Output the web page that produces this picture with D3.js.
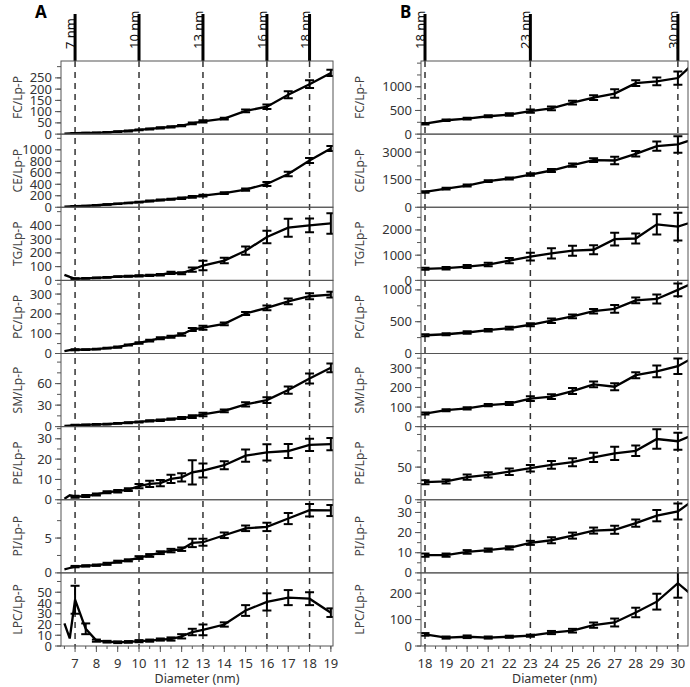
<!DOCTYPE html>
<html><head><meta charset="utf-8">
<script src="https://cdn.jsdelivr.net/npm/d3@7"></script>
<style>
html,body{margin:0;padding:0;background:#fff;}
svg{display:block;}
text{font-family:"Noto Sans","Open Sans",sans-serif;}
</style></head>
<body>
<svg id="chart" width="690" height="687"></svg>
<script>
// ---------------- DATA ----------------
const panelNames = ["FC/Lp-P","CE/Lp-P","TG/Lp-P","PC/Lp-P","SM/Lp-P","PE/Lp-P","PI/Lp-P","LPC/Lp-P"];

// Panel A
const xA = [6.5, 6.75, 7, 7.5, 8, 8.5, 9, 9.5, 10, 10.5, 11, 11.5, 12, 12.5, 13, 14, 15, 16, 17, 18, 19];
const fcA  = [2, 3, 4, 5, 6, 8, 11, 14, 19, 23, 28, 32, 38, 48, 57, 69, 103, 122, 175, 222, 272];
const fcAe = [null, null, 1, 1, 1, 1, 1.5, 2, 2, 2, 2.5, 2.5, 3, 4, 5, 4, 6, 10, 16, 17, 14];
const ceA  = [10, 14, 18, 25, 35, 48, 60, 75, 90, 108, 125, 140, 157, 180, 204, 244, 308, 406, 580, 814, 1023];
const ceAe = [null, null, 3, 3, 4, 4, 5, 5, 6, 8, 8, 10, 12, 15, 15, 15, 20, 35, 40, 45, 45];
const tgA  = [40, 25, 12, 14, 18, 22, 27, 30, 33, 36, 41, 55, 52, 78, 108, 144, 216, 316, 383, 400, 414];
const tgAe = [null, null, 3, 3, 3, 3, 3, 4, 4, 5, 6, 8, 8, 15, 35, 20, 30, 45, 65, 50, 75];
const pcA  = [12, 17, 19, 20, 22, 27, 32, 43, 53, 65, 77, 84, 96, 121, 130, 150, 202, 230, 263, 289, 297];
const pcAe = [null, null, 2, 2, 2, 2, 3, 3, 4, 4, 5, 5, 6, 8, 10, 7, 8, 12, 15, 15, 15];
const smA  = [1, 1.5, 2, 2.5, 3, 3.5, 4.5, 5.5, 6.5, 8, 9, 10.5, 12, 14, 17, 22, 31, 37, 51, 67, 82];
const smAe = [null, null, 0.5, 0.5, 0.5, 0.5, 0.5, 0.7, 0.8, 0.8, 1, 1, 1.5, 2, 2.5, 2, 3, 4, 5, 7, 6];
const peA  = [0.5, 2.2, 1.5, 1.8, 2.6, 3.7, 4.2, 5, 6.7, 7.8, 8.2, 10.3, 11, 13.5, 14.4, 17, 21.7, 23.3, 24, 27, 27.4];
const peAe = [null, null, 0.5, 0.5, 0.5, 0.5, 0.6, 0.7, 1, 1.5, 1.5, 2, 2, 6, 3.5, 2, 3, 4, 3.5, 3, 3];
const piA  = [0.5, 0.7, 0.9, 1.0, 1.1, 1.3, 1.6, 1.8, 2.2, 2.5, 2.9, 3.2, 3.4, 4.3, 4.4, 5.4, 6.4, 6.6, 7.8, 9.0, 8.96];
const piAe = [null, null, 0.1, 0.1, 0.1, 0.15, 0.15, 0.15, 0.2, 0.2, 0.2, 0.25, 0.25, 0.6, 0.5, 0.4, 0.4, 0.6, 0.8, 0.9, 0.8];
const lpcA  = [21, 7, 43, 16, 5, 4, 3.5, 3.8, 4.5, 5, 6, 6.5, 9, 13, 15, 20, 33, 41, 45, 44, 31];
const lpcAe = [null, null, 13, 5, 1, 0.8, 0.8, 0.8, 1, 1, 1, 1.5, 2, 3, 5, 2, 5, 8, 7, 6, 4];

// Panel B
const xB = [18, 19, 20, 21, 22, 23, 24, 25, 26, 27, 28, 29, 30, 31];
const fcB  = [221, 293, 328, 378, 414, 485, 543, 664, 771, 857, 1078, 1114, 1185, 1600];
const fcBe = [15, 15, 20, 20, 25, 35, 40, 40, 50, 90, 60, 80, 140, null];
const ceB  = [836, 1018, 1182, 1418, 1564, 1782, 2000, 2290, 2563, 2545, 2909, 3327, 3418, 3800];
const ceBe = [40, 50, 50, 50, 60, 70, 80, 90, 100, 200, 150, 250, 450, null];
const tgB  = [457, 484, 549, 627, 784, 941, 1072, 1176, 1215, 1634, 1660, 2222, 2130, 2400];
const tgBe = [40, 50, 60, 70, 100, 150, 200, 200, 180, 250, 200, 400, 550, null];
const pcB  = [287, 303, 330, 367, 399, 452, 516, 585, 665, 702, 835, 858, 1000, 1150];
const pcBe = [15, 15, 20, 20, 20, 25, 35, 30, 35, 60, 45, 70, 100, null];
const smB  = [67, 84, 93, 110, 118, 143, 153, 182, 216, 204, 263, 283, 309, 370];
const smBe = [5, 5, 6, 6, 8, 12, 12, 15, 15, 18, 15, 30, 40, null];
const peB  = [26.9, 28, 34.6, 38, 43, 48.3, 53.5, 57.5, 65, 71, 75, 93, 89.6, 103];
const peBe = [3, 3, 4, 4, 5, 5, 6, 6, 7, 10, 8, 15, 13, null];
const piB  = [8.8, 8.8, 10.4, 11.3, 12.4, 14.9, 16.2, 18.5, 21, 21.4, 24.7, 28.4, 30.5, 38];
const piBe = [0.8, 0.8, 0.9, 0.8, 0.8, 1, 1.5, 1.5, 1.5, 2, 1.8, 2.8, 4, null];
const lpcB  = [44, 32, 35, 32, 35, 39, 51, 58, 79, 89, 127, 168, 238, 170];
const lpcBe = [5, 4, 5, 4, 4, 4, 6, 7, 10, 15, 18, 30, 55, null];

// Axis tick labels / domains
const yMaxA = [325, 1273, 532, 369, 102, 36, 10.5, 68];
const yLabelsA = [[0,50,100,150,200,250],[0,200,400,600,800,1000],[0,100,200,300,400],[0,100,200,300],[0,30,60],[0,10,20,30],[0,5],[0,10,20,30,40,50]];
const yMinorA = [50, 200, 100, 50, 15, 5, 2.5, 10];
const yMaxB = [1545, 3980, 2900, 1150, 374, 112, 36.3, 277];
const yLabelsB = [[0,500,1000],[0,1500,3000],[0,1000,2000],[0,500,1000],[0,100,200,300],[0,50],[0,10,20,30],[0,100,200]];
const yMinorB = [250, 750, 500, 250, 50, 25, 5, 50];

const xTicksA = [7,8,9,10,11,12,13,14,15,16,17,18,19];
const xTicksB = [18,19,20,21,22,23,24,25,26,27,28,29,30];
const markersA = [7, 10, 13, 16, 18];
const markersB = [18, 23, 30];

// ---------------- DRAW ----------------
const svg = d3.select("#chart");
const top0 = 61, bottom0 = 646, nP = 8;
const pH = (bottom0 - top0) / nP;

function drawPanel(cfg) {
  const g = svg.append("g");
  const x = d3.scaleLinear().domain(cfg.xDomain).range([cfg.left, cfg.right]);
  const defsId = cfg.id;

  cfg.markers.forEach(m => {
    g.append("line")
      .attr("x1", x(m)).attr("x2", x(m))
      .attr("y1", top0).attr("y2", bottom0)
      .attr("stroke", "#333").attr("stroke-width", 1.5)
      .attr("stroke-dasharray", "6,5");
    g.append("text")
      .attr("transform", `translate(${x(m)},49) rotate(-90)`)
      .attr("font-size", 13).attr("fill", "#111")
      .text(m + " nm");
    g.append("line")
      .attr("x1", x(m)).attr("x2", x(m))
      .attr("y1", 14).attr("y2", top0)
      .attr("stroke", "#000").attr("stroke-width", 3);
  });

  cfg.series.forEach((s, i) => {
    const pt = top0 + i * pH, pb = pt + pH;
    const y = d3.scaleLinear().domain([0, cfg.yMax[i]]).range([pb, pt]);
    const cid = defsId + "clip" + i;
    svg.append("clipPath").attr("id", cid)
      .append("rect").attr("x", cfg.left).attr("y", pt).attr("width", cfg.right - cfg.left).attr("height", pH);
    const pg = g.append("g");

    const minorVals = d3.range(0, cfg.yMax[i] + 1e-9, cfg.yMinor[i]);
    minorVals.forEach(v => {
      pg.append("line").attr("x1", cfg.left - 4).attr("x2", cfg.left)
        .attr("y1", y(v)).attr("y2", y(v)).attr("stroke", "#555").attr("stroke-width", 1);
    });
    cfg.yLabels[i].forEach(v => {
      pg.append("line").attr("x1", cfg.left - 6).attr("x2", cfg.left)
        .attr("y1", y(v)).attr("y2", y(v)).attr("stroke", "#555").attr("stroke-width", 1);
      pg.append("text").attr("x", cfg.left - 9).attr("y", y(v))
        .attr("dy", "0.35em").attr("text-anchor", "end")
        .attr("font-size", 13).attr("fill", "#333").text(v);
    });

    pg.append("text")
      .attr("transform", `translate(${cfg.titleX},${(pt + pb) / 2}) rotate(-90)`)
      .attr("text-anchor", "middle").attr("dy", "0.35em")
      .attr("font-size", 12).attr("fill", "#444").text(panelNames[i]);

    const data = cfg.x.map((xv, j) => ({x: xv, v: s.v[j], e: s.e[j]}));
    const cl = pg.append("g").attr("clip-path", `url(#${cid})`);
    cl.append("path").datum(data)
      .attr("d", d3.line().x(d => x(d.x)).y(d => y(d.v)))
      .attr("fill", "none").attr("stroke", "#000").attr("stroke-width", 2.3);
    const eb = data.filter(d => d.e != null);
    eb.forEach(d => {
      const xx = x(d.x), y1 = y(d.v + d.e), y2 = y(d.v - d.e);
      cl.append("line").attr("x1", xx).attr("x2", xx).attr("y1", y1).attr("y2", y2)
        .attr("stroke", "#000").attr("stroke-width", 2);
      [y1, y2].forEach(yy => cl.append("line").attr("x1", xx - 4.5).attr("x2", xx + 4.5)
        .attr("y1", yy).attr("y2", yy).attr("stroke", "#000").attr("stroke-width", 2));
    });

    pg.append("rect").attr("x", cfg.left).attr("y", pt)
      .attr("width", cfg.right - cfg.left).attr("height", pH)
      .attr("fill", "none").attr("stroke", "#555").attr("stroke-width", 1);
  });

  const minorX = d3.range(cfg.xTicks[0] - 0.5, cfg.xDomain[1], 0.5).filter(v => v >= cfg.xDomain[0]);
  minorX.forEach(v => {
    g.append("line").attr("x1", x(v)).attr("x2", x(v)).attr("y1", bottom0).attr("y2", bottom0 + 3)
      .attr("stroke", "#555");
  });
  cfg.xTicks.forEach(v => {
    g.append("line").attr("x1", x(v)).attr("x2", x(v)).attr("y1", bottom0).attr("y2", bottom0 + 6)
      .attr("stroke", "#555");
    g.append("text").attr("x", x(v)).attr("y", 668).attr("text-anchor", "middle")
      .attr("font-size", 13).attr("fill", "#333").text(v);
  });
  g.append("text").attr("x", (cfg.left + cfg.right) / 2).attr("y", 683)
    .attr("text-anchor", "middle").attr("font-size", 12.5).attr("fill", "#333").text("Diameter (nm)");

  svg.append("text").attr("x", cfg.letterX).attr("y", 18)
    .attr("font-size", 17).attr("font-weight", "bold").attr("fill", "#000").text(cfg.letter);
}

drawPanel({
  id: "A", letter: "A", letterX: 35, left: 61, right: 333, xDomain: [6.34, 19.1], titleX: 18,
  x: xA, xTicks: xTicksA, markers: markersA, yMax: yMaxA, yLabels: yLabelsA, yMinor: yMinorA,
  series: [
    {v: fcA, e: fcAe}, {v: ceA, e: ceAe}, {v: tgA, e: tgAe}, {v: pcA, e: pcAe},
    {v: smA, e: smAe}, {v: peA, e: peAe}, {v: piA, e: piAe}, {v: lpcA, e: lpcAe}
  ]
});
drawPanel({
  id: "B", letter: "B", letterX: 400, left: 421, right: 688, xDomain: [17.81, 30.48], titleX: 360,
  x: xB, xTicks: xTicksB, markers: markersB, yMax: yMaxB, yLabels: yLabelsB, yMinor: yMinorB,
  series: [
    {v: fcB, e: fcBe}, {v: ceB, e: ceBe}, {v: tgB, e: tgBe}, {v: pcB, e: pcBe},
    {v: smB, e: smBe}, {v: peB, e: peBe}, {v: piB, e: piBe}, {v: lpcB, e: lpcBe}
  ]
});
</script>
</body></html>
